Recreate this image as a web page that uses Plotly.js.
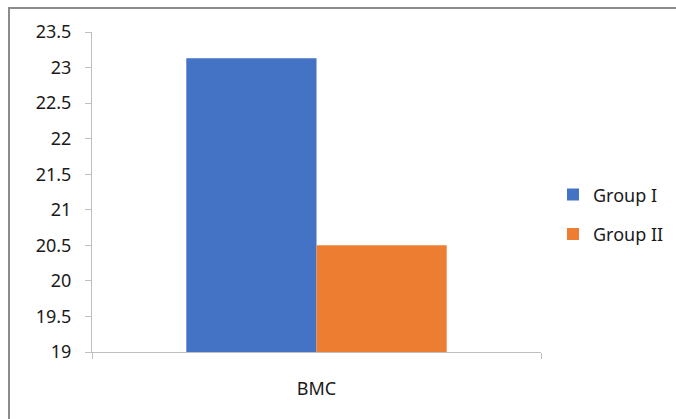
<!DOCTYPE html>
<html>
<head>
<meta charset="utf-8">
<script src="https://cdn.plot.ly/plotly-3.0.1.min.js"></script>
<style>
  html, body { margin: 0; padding: 0; background: #fff; }
  #wrap { position: relative; width: 676px; height: 419px; overflow: hidden; }
  #chart { position: absolute; left: 0; top: 0; width: 676px; height: 419px; }
  #frame { position: absolute; left: 8px; top: 7px; width: 700px; height: 500px;
           border-left: 2px solid #8c8c8c; border-top: 2px solid #8c8c8c; pointer-events: none; }
</style>
</head>
<body>
<div id="wrap">
  <div id="chart"></div>
  <div id="frame"></div>
</div>
<script>
const categories = ["BMC"];
const seriesNames = ["Group I", "Group II"];
const groupI = [23.13];
const groupII = [20.5];
const yTicks = [19, 19.5, 20, 20.5, 21, 21.5, 22, 22.5, 23, 23.5];

const colors = ["#4472C4", "#ED7D31"];
const font = { family: "Noto Sans, Open Sans, sans-serif", size: 18, color: "#1a1a1a" };

const traces = [groupI, groupII].map((vals, i) => ({
  type: "bar",
  name: seriesNames[i],
  x: categories,
  y: vals,
  marker: { color: colors[i] },
  legendgroup: "g" + i,
  hoverinfo: "skip"
}));

// plot area spans 92..541 px horizontally; paper spans 92..676
const layout = {
  width: 676,
  height: 419,
  margin: { l: 92, r: 0, t: 32, b: 67 },
  paper_bgcolor: "#ffffff",
  plot_bgcolor: "#ffffff",
  font: font,
  barmode: "group",
  bargap: 0.42,
  bargroupgap: 0,
  showlegend: true,
  legend: {
    x: (553 - 92) / 584, xanchor: "left",
    y: 0.43, yanchor: "middle",
    font: font,
    tracegroupgap: 13,
    itemwidth: 30,
    bgcolor: "rgba(0,0,0,0)"
  },
  xaxis: {
    type: "category",
    domain: [0, 449 / 584],
    showline: true,
    linecolor: "#bfbfbf",
    linewidth: 1,
    ticks: "outside",
    tickson: "boundaries",
    ticklen: 6,
    tickcolor: "#bfbfbf",
    showgrid: false,
    zeroline: false,
    ticklabelstandoff: 20,
    tickfont: font,
    fixedrange: true
  },
  yaxis: {
    range: [19, 23.5],
    tickvals: yTicks,
    ticktext: yTicks.map(String),
    showline: true,
    linecolor: "#bfbfbf",
    linewidth: 1,
    ticks: "outside",
    ticklen: 6,
    tickcolor: "#bfbfbf",
    showgrid: false,
    zeroline: false,
    ticklabelstandoff: 10,
    tickfont: font,
    fixedrange: true
  }
};

Plotly.newPlot("chart", traces, layout, { staticPlot: true, displayModeBar: false });
</script>
</body>
</html>
